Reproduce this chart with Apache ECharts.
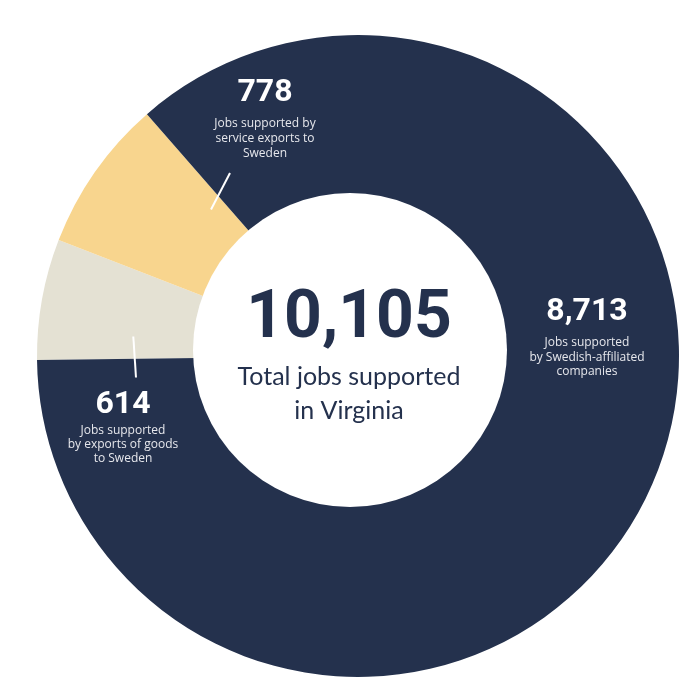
<!DOCTYPE html>
<html>
<head>
<meta charset="utf-8">
<script src="https://cdn.jsdelivr.net/npm/echarts@6/dist/echarts.min.js"></script>
<style>
  html, body { margin: 0; padding: 0; background: #ffffff; }
  #chart { width: 700px; height: 700px; }
</style>
</head>
<body>
<div id="chart"></div>
<script>
// ---- data ----
const categories = ['Goods exports to Sweden', 'Service exports to Sweden', 'Swedish-affiliated companies'];
const values = [614, 778, 8713];
const sliceColors = ['#e4e1d3', '#f8d58e', '#24314d'];
const labelLines = [
  ['Jobs supported', 'by exports of goods', 'to Sweden'],
  ['Jobs supported by', 'service exports to', 'Sweden'],
  ['Jobs supported', 'by Swedish-affiliated', 'companies']
];
const centerTitle = ['Total jobs supported', 'in Virginia'];

const total = values.reduce((a, b) => a + b, 0);
const fmt = v => v.toLocaleString('en-US');

// annotation placement (label anchors)
const labelPos = [
  { x: 123, numY: 405, textY: 444.5, lh: 14.2 },
  { x: 265, numY: 93, textY: 138.5, lh: 15 },
  { x: 587, numY: 312, textY: 357.5, lh: 14.5 }
];

const chart = echarts.init(document.getElementById('chart'), null, { renderer: 'canvas' });

const graphics = [
  // donut hole
  { type: 'circle', shape: { cx: 350, cy: 350, r: 157 }, style: { fill: '#ffffff' }, z: 50, silent: true },
  // leader lines
  { type: 'line', shape: { x1: 230, y1: 173, x2: 211, y2: 209.5 }, style: { stroke: '#ffffff', lineWidth: 2 }, z: 60, silent: true },
  { type: 'line', shape: { x1: 133.3, y1: 336.5, x2: 136, y2: 377.5 }, style: { stroke: '#ffffff', lineWidth: 2 }, z: 60, silent: true },
  // center text
  { type: 'text', x: 349, y: 320, z: 70, silent: true,
    style: { text: fmt(total), fill: '#24314d', font: 'bold 66px Roboto', textAlign: 'center', textVerticalAlign: 'middle' } },
  { type: 'text', x: 349, y: 394, z: 70, silent: true,
    style: { text: centerTitle.join('\n'), fill: '#24314d', font: '25px Lato', lineHeight: 34, textAlign: 'center', textVerticalAlign: 'middle' } }
];

values.forEach((v, i) => {
  const p = labelPos[i];
  graphics.push({ type: 'text', x: p.x, y: p.numY, z: 70, silent: true,
    style: { text: fmt(v), fill: '#ffffff', font: 'bold 32px Roboto', textAlign: 'center', textVerticalAlign: 'middle' } });
  graphics.push({ type: 'text', x: p.x, y: p.textY, z: 70, silent: true,
    style: { text: labelLines[i].join('\n'), fill: '#e6e7ec', font: '12px "Open Sans"', lineHeight: p.lh, textAlign: 'center', textVerticalAlign: 'middle' } });
});

chart.setOption({
  animation: false,
  backgroundColor: '#ffffff',
  series: [{
    type: 'pie',
    center: [358, 356],
    radius: [140, 321],
    startAngle: 180.7,
    clockwise: true,
    avoidLabelOverlap: false,
    label: { show: false },
    labelLine: { show: false },
    emphasis: { disabled: true },
    itemStyle: { borderWidth: 0 },
    data: categories.map((c, i) => ({ name: c, value: values[i], itemStyle: { color: sliceColors[i] } }))
  }],
  graphic: { elements: graphics }
});
</script>
</body>
</html>
